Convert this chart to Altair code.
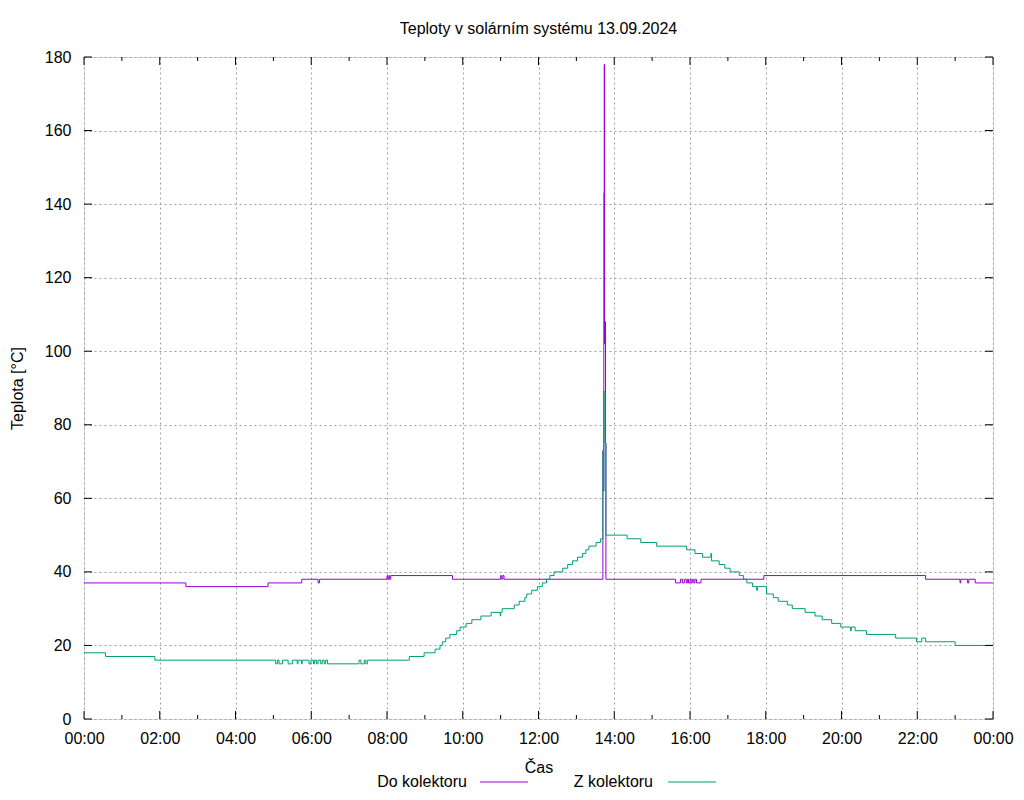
import altair as alt
import pandas as pd

# ---- data (hours since midnight, temperature in °C), step series ----
do_t = [0, 2.69, 4.86, 5.75, 6.18, 6.22, 8.00, 8.02, 8.05, 8.07, 8.10, 9.73,
        11.00, 11.03, 11.06, 11.09, 13.70, 13.715, 13.725, 13.735, 13.745, 13.755,
        13.77, 13.78, 15.62, 15.75, 15.80, 15.85, 15.90, 15.93, 15.96, 16.00,
        16.03, 16.06, 16.10, 16.13, 16.17, 16.29, 17.95, 22.22, 23.13, 23.15,
        23.33, 23.36, 23.53, 24.0]
do_v = [37, 36, 37, 38, 37, 38, 39, 38, 39, 38, 39, 38,
        39, 38, 39, 38, 73, 62, 143, 178, 102, 108,
        75, 38, 37, 38, 37, 38, 37, 38, 37, 38,
        37, 38, 37, 38, 37, 38, 39, 38, 37, 38,
        37, 38, 37, 37]

z_t = [0, 0.57, 1.87,
       5.06, 5.11, 5.15, 5.24, 5.39, 5.50, 5.63, 5.65, 5.74, 5.76,
       5.94, 5.99, 6.06, 6.09, 6.14, 6.18, 6.25, 6.29, 6.34, 6.38, 6.43,
       7.26, 7.31, 7.40, 7.44, 7.48,
       8.59, 8.98, 9.27, 9.40, 9.46, 9.55, 9.66, 9.84, 9.93, 10.09, 10.24,
       10.48, 10.75, 10.99, 11.00, 11.04, 11.36, 11.49, 11.64, 11.69, 11.82,
       11.97, 12.10, 12.21, 12.30, 12.41, 12.64, 12.77, 12.90, 13.03, 13.16,
       13.25, 13.33, 13.52, 13.64, 13.70, 13.715, 13.725, 13.755, 13.78,
       14.34, 14.70, 15.12, 15.91, 16.13, 16.33, 16.55, 16.57, 16.77, 16.92,
       17.06, 17.30, 17.41, 17.50, 17.65, 17.76, 17.78, 18.02, 18.20, 18.33,
       18.57, 18.70, 19.04, 19.30, 19.49, 19.74, 19.98, 20.24, 20.26, 20.36,
       20.66, 21.43, 21.98, 22.12, 22.22, 23.00, 24.0]
z_v = [18, 17, 16,
       15, 16, 15, 16, 15, 16, 15, 16, 15, 16,
       15, 16, 15, 16, 15, 16, 15, 16, 15, 16, 15,
       16, 15, 16, 15, 16,
       17, 18, 19, 20, 21, 22, 23, 24, 25, 26, 27,
       28, 29, 28, 29, 30, 31, 32, 33, 34, 35,
       36, 37, 38, 39, 40, 41, 42, 43, 44, 45,
       46, 47, 48, 49, 73, 62, 89, 75, 50,
       49, 48, 47, 46, 45, 44, 45, 43, 42, 41,
       40, 39, 38, 37, 36, 35, 36, 34, 33, 32,
       31, 30, 29, 28, 27, 26, 25, 24, 25, 24,
       23, 22, 21, 22, 21, 20, 20]

series_names = ["Do kolektoru", "Z kolektoru"]
series_colors = ["#9400d3", "#009e73"]

x_major = list(range(0, 25, 2))
x_minor = list(range(1, 24, 2))
y_major = list(range(0, 181, 20))

W, H = 909, 662
FONT = "Liberation Sans"

xscale = alt.Scale(domain=[0, 24], nice=False, zero=False)
yscale = alt.Scale(domain=[0, 180], nice=False)

x_axis = alt.Axis(values=x_major, labelExpr="(datum.value % 24 < 10 ? '0' : '') + (datum.value % 24) + ':00'",
                  grid=True, gridColor="#a0a0a0", gridDash=[2, 3], gridWidth=1,
                  ticks=False, domain=False, labelPadding=11, labelFontSize=16,
                  labelFont=FONT, labelColor="black", title="Čas", titleFont=FONT,
                  titleFontSize=16, titleFontWeight="normal", titleColor="black",
                  titlePadding=13, labelFlush=False)
y_axis = alt.Axis(values=y_major, grid=True, gridColor="#a0a0a0", gridDash=[2, 3], gridWidth=1,
                  ticks=False, domain=False, labelPadding=13, labelFontSize=16,
                  labelFont=FONT, labelColor="black", title="Teplota [°C]", titleFont=FONT,
                  titleFontSize=16, titleFontWeight="normal", titleColor="black",
                  titlePadding=19, labelFlush=False)

X = lambda: alt.X("t:Q", scale=xscale, axis=x_axis)
Y = lambda: alt.Y("v:Q", scale=yscale, axis=y_axis)

df_do = pd.DataFrame({"t": do_t, "v": do_v, "s": series_names[0]})
df_z = pd.DataFrame({"t": z_t, "v": z_v, "s": series_names[1]})

line_do = alt.Chart(df_do).mark_line(interpolate="step-after", strokeWidth=1, color=series_colors[0]).encode(
    x=X(), y=Y())
line_z = alt.Chart(df_z).mark_line(interpolate="step-after", strokeWidth=1, color=series_colors[1]).encode(
    x=X(), y=Y())

# inward tick marks (gnuplot style, mirrored)
ytick_df = pd.DataFrame({"v": y_major})
xmaj_df = pd.DataFrame({"t": x_major})
xmin_df = pd.DataFrame({"t": x_minor})
tick_style = dict(color="black", strokeWidth=1)

ytl = alt.Chart(ytick_df).mark_rule(**tick_style).encode(y=Y(), x=alt.value(0), x2=alt.value(8))
ytr = alt.Chart(ytick_df).mark_rule(**tick_style).encode(y=Y(), x=alt.value(W - 8), x2=alt.value(W))
xtb = alt.Chart(xmaj_df).mark_rule(**tick_style).encode(x=X(), y=alt.value(H - 8), y2=alt.value(H))
xtt = alt.Chart(xmaj_df).mark_rule(**tick_style).encode(x=X(), y=alt.value(0), y2=alt.value(8))
xmb = alt.Chart(xmin_df).mark_rule(**tick_style).encode(x=X(), y=alt.value(H - 4), y2=alt.value(H))
xmt = alt.Chart(xmin_df).mark_rule(**tick_style).encode(x=X(), y=alt.value(0), y2=alt.value(4))

# legend (gnuplot style: label then line sample)
leg_text_x = [383, 569]
leg_line_x = [(396, 444), (584, 632)]
LEG_Y = 725
legend_layers = []
for i, name in enumerate(series_names):
    legend_layers.append(
        alt.Chart(pd.DataFrame({"s": [name]})).mark_text(
            align="right", baseline="alphabetic", fontSize=16, font=FONT, color="black"
        ).encode(text="s:N", x=alt.value(leg_text_x[i]), y=alt.value(LEG_Y + 5))
    )
    legend_layers.append(
        alt.Chart(pd.DataFrame({"s": [name]})).mark_rule(color=series_colors[i], strokeWidth=1).encode(
            x=alt.value(leg_line_x[i][0]), x2=alt.value(leg_line_x[i][1]), y=alt.value(LEG_Y))
    )

chart = alt.layer(
    line_do, line_z, ytl, ytr, xtb, xtt, xmb, xmt, *legend_layers
).properties(
    width=W, height=H,
    title=alt.TitleParams("Teploty v solárním systému 13.09.2024", font=FONT, fontSize=16,
                          fontWeight="normal", color="black", anchor="middle", offset=12),
    autosize=alt.AutoSizeParams(type="none"),
    padding={"left": 84, "top": 57, "right": 31, "bottom": 81},
).configure_view(
    stroke="black", strokeWidth=1
).configure(
    background="white"
)

chart.save("out.html", embed_options={"renderer": "svg", "actions": False})
